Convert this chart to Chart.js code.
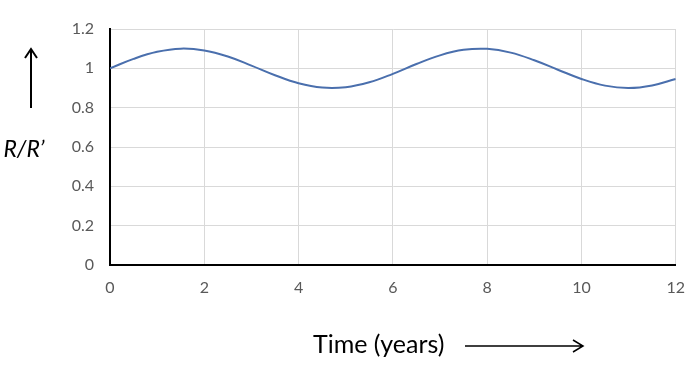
<!DOCTYPE html>
<html>
<head>
<meta charset="utf-8">
<script src="https://cdn.jsdelivr.net/npm/chart.js@4"></script>
<style>
  html, body { margin: 0; padding: 0; background: #fff; }
  #wrap { width: 698px; height: 374px; position: relative; }
</style>
</head>
<body>
<div id="wrap"><canvas id="chart" width="698" height="374"></canvas></div>
<script>
// values, every half year
const years = [0, 0.5, 1, 1.5, 2, 2.5, 3, 3.5, 4, 4.5, 5, 5.5, 6, 6.5, 7, 7.5, 8, 8.5, 9, 9.5, 10, 10.5, 11, 11.5, 12];
const ratio = [1.000, 1.048, 1.084, 1.100, 1.091, 1.060, 1.014, 0.965, 0.924, 0.902, 0.904, 0.929, 0.972,
               1.022, 1.066, 1.094, 1.099, 1.080, 1.041, 0.993, 0.946, 0.912, 0.900, 0.913, 0.946];
const yTitle = "R/R\u2019";
const xTitle = "Time (years)";

const font = "Lato, 'Open Sans', sans-serif";

// axis captions with arrows, drawn outside the plot
const captions = {
    id: 'captions',
    afterDraw(chart) {
        const ctx = chart.ctx;
        ctx.save();
        ctx.fillStyle = '#000';
        ctx.strokeStyle = '#000';
        ctx.lineWidth = 2;

        ctx.font = 'italic 23px ' + font;
        ctx.textAlign = 'center';
        ctx.textBaseline = 'middle';
        ctx.fillText(yTitle, 24, 150);

        // up arrow
        ctx.beginPath();
        ctx.moveTo(31, 108); ctx.lineTo(31, 49);
        ctx.moveTo(25, 58); ctx.lineTo(31, 49); ctx.lineTo(37, 58);
        ctx.stroke();

        ctx.font = '25px ' + font;
        ctx.textAlign = 'left';
        ctx.fillText(xTitle, 313, 345);

        // right arrow
        ctx.lineWidth = 1.5;
        ctx.beginPath();
        ctx.moveTo(465, 346); ctx.lineTo(583, 346);
        ctx.moveTo(573, 340); ctx.lineTo(583, 346); ctx.lineTo(573, 352);
        ctx.stroke();
        ctx.restore();
    }
};

new Chart(document.getElementById('chart'), {
    type: 'line',
    data: {
        datasets: [{
            data: years.map((x, i) => ({ x: x, y: ratio[i] })),
            borderColor: '#4a6fad',
            borderWidth: 2,
            pointRadius: 0,
            tension: 0.4,
            fill: false
        }]
    },
    options: {
        responsive: false,
        animation: false,
        layout: { padding: { left: 0, top: 29, right: 21, bottom: 74 } },
        plugins: { legend: { display: false }, tooltip: { enabled: false } },
        scales: {
            x: {
                type: 'linear',
                min: 0, max: 12,
                afterFit(s) { s.height = 35; },
                border: { color: '#000', width: 2 },
                grid: { color: '#d9d9d9', drawTicks: false },
                ticks: { stepSize: 2, padding: 13, color: '#595959', font: { family: font, size: 16 } }
            },
            y: {
                min: 0, max: 1.2,
                afterFit(s) { s.width = 110; },
                border: { color: '#000', width: 2 },
                grid: { color: '#d9d9d9', drawTicks: false },
                ticks: {
                    stepSize: 0.2, padding: 16, color: '#595959', font: { family: font, size: 16 },
                    callback: v => String(Math.round(v * 10) / 10)
                }
            }
        }
    },
    plugins: [captions]
});
</script>
</body>
</html>
